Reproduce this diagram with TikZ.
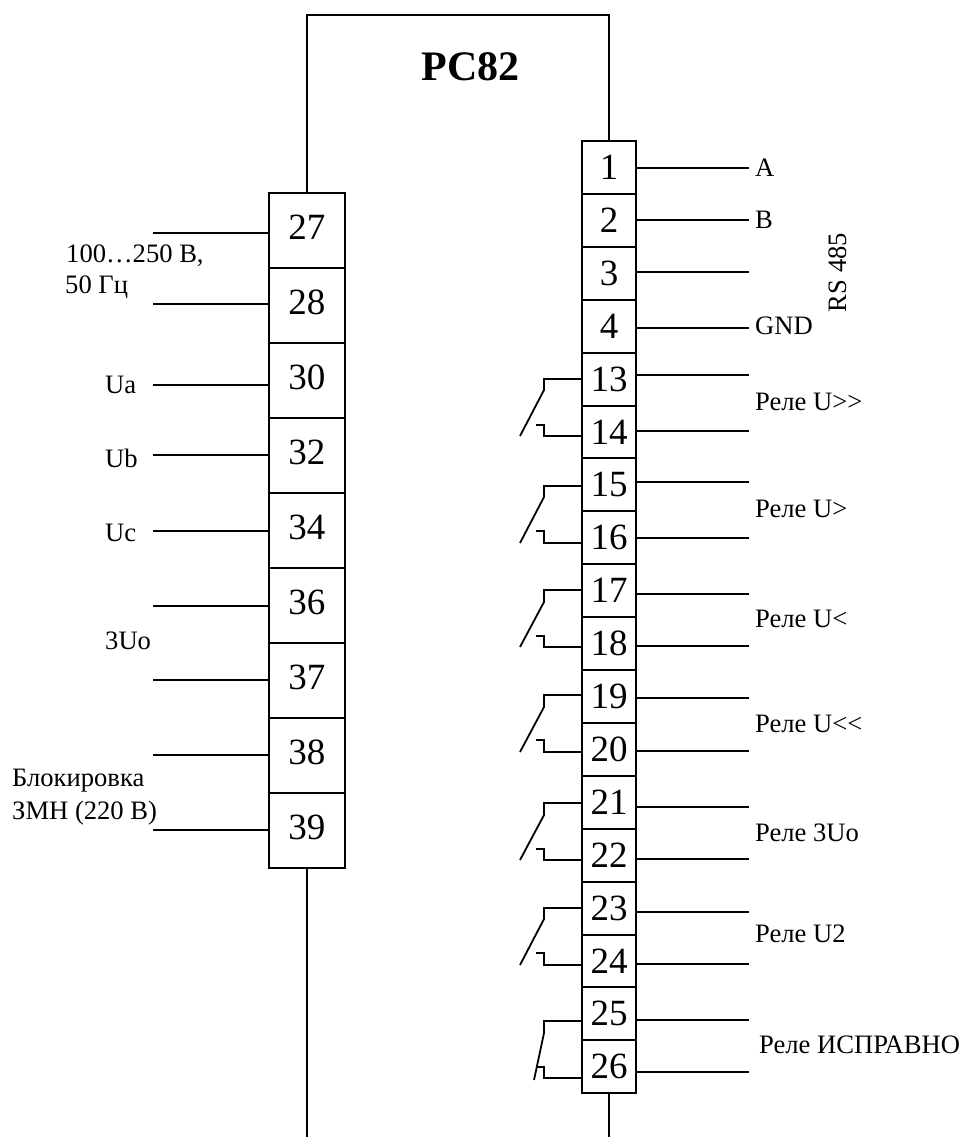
\documentclass[tikz,border=0pt]{standalone}
\usepackage{fontspec}
\setmainfont{Liberation Serif}
\begin{document}
\begin{tikzpicture}[x=1pt,y=-1pt]
      \tikzset{lterm/.style={draw, line width=2pt, inner sep=0pt, minimum width=76.5pt, minimum height=75pt, text depth=6pt, font=\fontsize{37}{37}\selectfont}}
      \tikzset{rterm/.style={draw, line width=2pt, inner sep=0pt, minimum width=54pt, minimum height=52.9pt, font=\fontsize{37}{37}\selectfont}}
      \tikzset{wire/.style={line width=1.8pt}}
      \tikzset{lbl/.style={inner sep=0pt, anchor=west, font=\fontsize{26.6}{26.6}\selectfont}}
      \useasboundingbox (0,0) rectangle (966,1137);
%% Terminals
	%left
      	\node[lterm] (t27) at (306.8,230.5) {27};
      	\node[lterm] (t28) at (306.8,305.5) {28};
      	\node[lterm] (t30) at (306.8,380.5) {30};
      	\node[lterm] (t32) at (306.8,455.5) {32};
      	\node[lterm] (t34) at (306.8,530.5) {34};
      	\node[lterm] (t36) at (306.8,605.5) {36};
      	\node[lterm] (t37) at (306.8,680.5) {37};
      	\node[lterm] (t38) at (306.8,755.5) {38};
      	\node[lterm] (t39) at (306.8,830.5) {39};
	%right
      	\node[rterm] (t1) at (609,167.5) {1};
      	\node[rterm] (t2) at (609,220.4) {2};
      	\node[rterm] (t3) at (609,273.3) {3};
      	\node[rterm] (t4) at (609,326.2) {4};
      	\node[rterm] (t13) at (609,379.1) {13};
      	\node[rterm] (t14) at (609,432) {14};
      	\node[rterm] (t15) at (609,484.9) {15};
      	\node[rterm] (t16) at (609,537.8) {16};
      	\node[rterm] (t17) at (609,590.7) {17};
      	\node[rterm] (t18) at (609,643.6) {18};
      	\node[rterm] (t19) at (609,696.5) {19};
      	\node[rterm] (t20) at (609,749.4) {20};
      	\node[rterm] (t21) at (609,802.3) {21};
      	\node[rterm] (t22) at (609,855.2) {22};
      	\node[rterm] (t23) at (609,908.1) {23};
      	\node[rterm] (t24) at (609,961) {24};
      	\node[rterm] (t25) at (609,1013.9) {25};
      	\node[rterm] (t26) at (609,1066.8) {26};
%% Free ends
      	\coordinate (top1) at (306.8,15);
      	\coordinate (top2) at (609,15);
      	\coordinate (bot1) at (306.8,1137);
      	\coordinate (bot2) at (609,1137);
      	\coordinate (e27) at (153,233);
      	\coordinate (e28) at (153,304);
      	\coordinate (e30) at (153,385);
      	\coordinate (e32) at (153,455);
      	\coordinate (e34) at (153,531);
      	\coordinate (e36) at (153,606);
      	\coordinate (e37) at (153,680);
      	\coordinate (e38) at (153,755);
      	\coordinate (e39) at (153,830);
      	\coordinate (e1) at (749,168);
      	\coordinate (e2) at (749,220);
      	\coordinate (e3) at (749,272);
      	\coordinate (e4) at (749,328);
      	\coordinate (e13) at (749,375);
      	\coordinate (e14) at (749,431);
      	\coordinate (e15) at (749,482);
      	\coordinate (e16) at (749,538);
      	\coordinate (e17) at (749,594);
      	\coordinate (e18) at (749,646);
      	\coordinate (e19) at (749,698);
      	\coordinate (e20) at (749,751);
      	\coordinate (e21) at (749,807);
      	\coordinate (e22) at (749,859);
      	\coordinate (e23) at (749,912);
      	\coordinate (e24) at (749,964);
      	\coordinate (e25) at (749,1020);
      	\coordinate (e26) at (749,1072);
%% Wires
	%frame
		\draw [wire] (t27.north) -- (top1) -- (top2) -- (t1.north);
		\draw [wire] (t39.south) -- (bot1);
		\draw [wire] (t26.south) -- (bot2);
	%left
		\draw [wire] (e27) -- (e27 -| t27.west);
		\draw [wire] (e28) -- (e28 -| t28.west);
		\draw [wire] (e30) -- (e30 -| t30.west);
		\draw [wire] (e32) -- (e32 -| t32.west);
		\draw [wire] (e34) -- (e34 -| t34.west);
		\draw [wire] (e36) -- (e36 -| t36.west);
		\draw [wire] (e37) -- (e37 -| t37.west);
		\draw [wire] (e38) -- (e38 -| t38.west);
		\draw [wire] (e39) -- (e39 -| t39.west);
	%right
		\draw [wire] (e1) -- (e1 -| t1.east);
		\draw [wire] (e2) -- (e2 -| t2.east);
		\draw [wire] (e3) -- (e3 -| t3.east);
		\draw [wire] (e4) -- (e4 -| t4.east);
		\draw [wire] (e13) -- (e13 -| t13.east);
		\draw [wire] (e14) -- (e14 -| t14.east);
		\draw [wire] (e15) -- (e15 -| t15.east);
		\draw [wire] (e16) -- (e16 -| t16.east);
		\draw [wire] (e17) -- (e17 -| t17.east);
		\draw [wire] (e18) -- (e18 -| t18.east);
		\draw [wire] (e19) -- (e19 -| t19.east);
		\draw [wire] (e20) -- (e20 -| t20.east);
		\draw [wire] (e21) -- (e21 -| t21.east);
		\draw [wire] (e22) -- (e22 -| t22.east);
		\draw [wire] (e23) -- (e23 -| t23.east);
		\draw [wire] (e24) -- (e24 -| t24.east);
		\draw [wire] (e25) -- (e25 -| t25.east);
		\draw [wire] (e26) -- (e26 -| t26.east);
%% Contacts
		\draw [wire] (582,379) -- (544,379) -- (544,390) -- (520,436);
		\draw [wire] (582,436) -- (544,436) -- (544,425) -- (536,425);
		\draw [wire] (582,486) -- (544,486) -- (544,497) -- (520,543);
		\draw [wire] (582,543) -- (544,543) -- (544,531) -- (536,531);
		\draw [wire] (582,590) -- (544,590) -- (544,602) -- (520,647);
		\draw [wire] (582,647) -- (544,647) -- (544,636) -- (536,636);
		\draw [wire] (582,695) -- (544,695) -- (544,707) -- (520,752);
		\draw [wire] (582,752) -- (544,752) -- (544,740) -- (536,740);
		\draw [wire] (582,803) -- (544,803) -- (544,815) -- (520,860);
		\draw [wire] (582,860) -- (544,860) -- (544,849) -- (536,849);
		\draw [wire] (582,908) -- (544,908) -- (544,919) -- (520,965);
		\draw [wire] (582,965) -- (544,965) -- (544,953) -- (536,953);
		\draw [wire] (582,1021) -- (544,1021) -- (544,1033) -- (534,1080);
		\draw [wire] (582,1078) -- (544,1078) -- (544,1067) -- (537,1067);
%% Labels
		\node[inner sep=0pt, font=\fontsize{42}{42}\selectfont\bfseries] (title) at (470.5,67) {PC82};
		\node[lbl] (supply1) at (66,256) {100…250 В,};
		\node[lbl] (supply2) at (65,287) {50 Гц};
		\node[lbl] (ua) at (105,385) {Ua};
		\node[lbl] (ub) at (105,458) {Ub};
		\node[lbl] (uc) at (105,533) {Uc};
		\node[lbl] (uo) at (105,641) {3Uo};
		\node[lbl] (lock1) at (12,781) {Блокировка};
		\node[lbl] (lock2) at (12,813) {ЗМН (220 В)};
		\node[lbl] (la) at (755,168) {A};
		\node[lbl] (lb) at (755,220) {B};
		\node[lbl] (lgnd) at (755,326) {GND};
		\node[lbl, anchor=center, rotate=90] (rs) at (838,272.5) {RS 485};
		\node[lbl] (r1) at (755,402) {Реле U>\kern0pt>};
		\node[lbl] (r2) at (755,509) {Реле U>};
		\node[lbl] (r3) at (755,619) {Реле U<};
		\node[lbl] (r4) at (755,724) {Реле U<\kern0pt<};
		\node[lbl] (r5) at (755,833) {Реле 3Uo};
		\node[lbl] (r6) at (755,934) {Реле U2};
		\node[lbl] (r7) at (759,1045) {Реле ИСПРАВНО};

	\end{tikzpicture}
\end{document}
